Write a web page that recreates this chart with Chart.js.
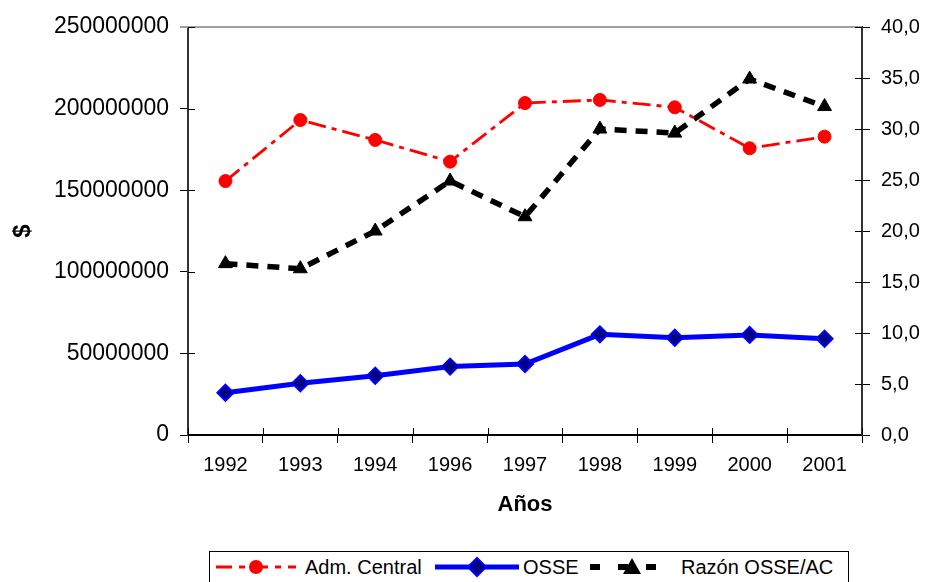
<!DOCTYPE html>
<html lang="es">
<head>
<meta charset="UTF-8">
<title>Adm. Central y OSSE</title>
<script src="https://cdn.jsdelivr.net/npm/chart.js"></script>
<style>
  html, body { margin: 0; padding: 0; background: #fff; }
  #wrap { position: relative; width: 925px; height: 582px; overflow: hidden; font-family: "Liberation Sans", Arial, sans-serif; }
  #chart { position: absolute; left: 0; top: 0; }
  .legend { position: absolute; left: 209px; top: 551px; width: 640px; height: 42px; border: 1px solid #000; box-sizing: border-box; background: #fff; }
  .legend svg, .legend span { position: absolute; }
  .legend svg { top: 0; }
  .legend span { top: 3px; font-size: 20px; line-height: 24px; color: #000; white-space: nowrap; }
</style>
</head>
<body>
<div id="wrap">
  <canvas id="chart" width="925" height="582"></canvas>
  <div class="legend">
    <svg style="left:6px" width="80" height="30">
      <line x1="0" y1="15" x2="80" y2="15" stroke="#ff0000" stroke-width="3" stroke-dasharray="16 7 6 7"/>
      <circle cx="40" cy="15" r="7" fill="#ff0000"/>
    </svg>
    <span style="left:95px">Adm. Central</span>
    <svg style="left:225px" width="84" height="30">
      <line x1="0" y1="15" x2="84" y2="15" stroke="#0000ff" stroke-width="5"/>
      <polygon points="42,6 51,15 42,24 33,15" fill="#000080" stroke="#0000ff" stroke-width="2"/>
    </svg>
    <span style="left:313px">OSSE</span>
    <svg style="left:380px" width="76" height="30">
      <line x1="0" y1="15" x2="76" y2="15" stroke="#000" stroke-width="6" stroke-dasharray="10 18"/>
      <polygon points="42,6 51,22 33,22" fill="#000"/>
    </svg>
    <span style="left:471px">Razón OSSE/AC</span>
  </div>
</div>

<script>
const years = ['1992', '1993', '1994', '1996', '1997', '1998', '1999', '2000', '2001'];
const admCentral = [155600000, 193000000, 180800000, 167500000, 203400000, 205300000, 200800000, 175700000, 182800000];
const osse = [25900000, 31700000, 36300000, 41900000, 43500000, 61700000, 59600000, 61300000, 59000000];
const razon = [16.8, 16.3, 20.0, 24.9, 21.4, 30.0, 29.6, 34.9, 32.2];
const leftTicks = [0, 50000000, 100000000, 150000000, 200000000, 250000000];
const rightTicks = [0, 5, 10, 15, 20, 25, 30, 35, 40];

Chart.defaults.font.family = "'Liberation Sans', Arial, sans-serif";
Chart.defaults.color = '#000';

// Excel-style tick marks that cross the axis line, plus the grey top border
const crossTicks = {
  id: 'crossTicks',
  beforeDatasetsDraw(chart) {
    const ctx = chart.ctx;
    const area = chart.chartArea;
    const x = chart.scales.x;
    const yl = chart.scales.y;
    const yr = chart.scales.y1;
    ctx.save();
    ctx.strokeStyle = '#a0a0a0';
    ctx.lineWidth = 2;
    ctx.beginPath();
    ctx.moveTo(area.left - 8, area.top);
    ctx.lineTo(area.right, area.top);
    ctx.stroke();
    ctx.strokeStyle = '#000';
    ctx.lineWidth = 1;
    ctx.beginPath();
    leftTicks.forEach(v => {
      const p = Math.round(yl.getPixelForValue(v)) + 0.5;
      ctx.moveTo(area.left, p);
      ctx.lineTo(area.left + 7, p);
    });
    rightTicks.forEach(v => {
      const p = Math.round(yr.getPixelForValue(v)) + 0.5;
      ctx.moveTo(area.right - 7, p);
      ctx.lineTo(area.right, p);
    });
    for (let i = 0; i <= years.length; i++) {
      const p = Math.round(x.getPixelForValue(i - 0.5)) + 0.5;
      ctx.moveTo(p, area.bottom - 7);
      ctx.lineTo(p, area.bottom);
    }
    ctx.stroke();
    ctx.restore();
  }
};

new Chart(document.getElementById('chart'), {
  type: 'line',
  data: {
    labels: years,
    datasets: [
      {
        label: 'Adm. Central',
        data: admCentral,
        yAxisID: 'y',
        borderColor: '#ff0000',
        backgroundColor: '#ff0000',
        borderWidth: 2.8,
        borderDash: [18, 6, 5, 6],
        pointStyle: 'circle',
        pointRadius: 6.5,
        pointBorderWidth: 1,
        tension: 0
      },
      {
        label: 'OSSE',
        data: osse,
        yAxisID: 'y',
        borderColor: '#0000ff',
        backgroundColor: '#000080',
        pointBorderColor: '#0000ff',
        borderWidth: 5,
        pointStyle: 'rectRot',
        pointRadius: 8,
        pointBorderWidth: 2,
        tension: 0
      },
      {
        label: 'Razón OSSE/AC',
        data: razon,
        yAxisID: 'y1',
        borderColor: '#000',
        backgroundColor: '#000',
        borderWidth: 5.5,
        borderDash: [12, 9],
        pointStyle: 'triangle',
        pointRadius: 8,
        pointBorderWidth: 1,
        tension: 0
      }
    ]
  },
  options: {
    responsive: false,
    animation: false,
    layout: { padding: { left: 0, right: 0, top: 27, bottom: 52 } },
    plugins: {
      legend: { display: false },
      tooltip: { enabled: false }
    },
    scales: {
      x: {
        offset: true,
        grid: { offset: true, drawOnChartArea: false, color: '#000', tickLength: 8 },
        border: { color: '#000', width: 2 },
        ticks: { font: { size: 20 }, padding: 10, maxRotation: 0, color: '#000' },
        title: { display: true, text: 'Años', font: { size: 22, weight: 'bold' }, padding: { top: 0, bottom: 12 }, color: '#000' },
        afterFit(scale) { scale.height = 95; }
      },
      y: {
        position: 'left',
        min: 0,
        max: 250000000,
        grid: { drawOnChartArea: false, color: '#000', tickLength: 8 },
        border: { color: '#333', width: 2 },
        ticks: { font: { size: 23 }, padding: 11, color: '#000', callback: v => String(v) },
        afterBuildTicks(scale) { scale.ticks = leftTicks.map(v => ({ value: v })); },
        title: { display: true, text: '$', font: { size: 24, weight: 'bold' }, padding: { top: 9, bottom: 0 }, color: '#000' },
        afterFit(scale) { scale.width = 188; }
      },
      y1: {
        position: 'right',
        min: 0,
        max: 40,
        grid: { drawOnChartArea: false, color: '#000', tickLength: 8 },
        border: { color: '#333', width: 2 },
        ticks: { font: { size: 20 }, padding: 11, color: '#000', callback: v => v.toFixed(1).replace('.', ',') },
        afterBuildTicks(scale) { scale.ticks = rightTicks.map(v => ({ value: v })); },
        afterFit(scale) { scale.width = 63; }
      }
    }
  },
  plugins: [crossTicks]
});
</script>
</body>
</html>
